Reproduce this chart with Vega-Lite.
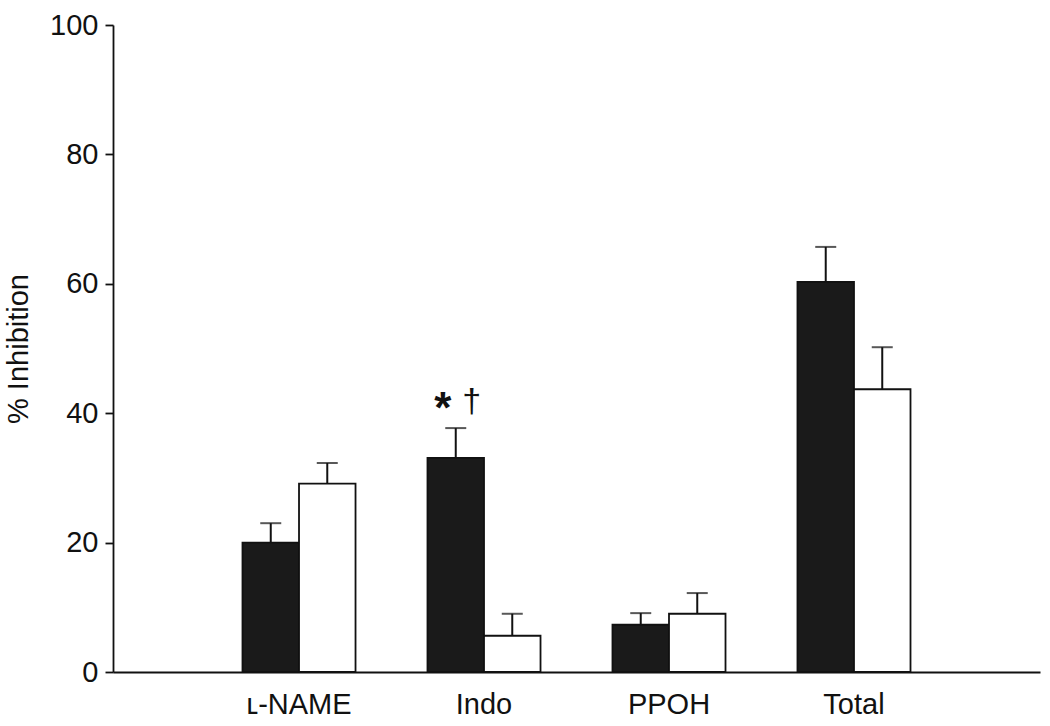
{
  "$schema": "https://vega.github.io/schema/vega-lite/v6.json",
  "autosize": "none",
  "width": 927,
  "height": 647,
  "padding": {"left": 113, "top": 25, "right": 10, "bottom": 54},
  "background": "white",
  "config": {
    "view": {"stroke": null},
    "font": "Liberation Sans",
    "axis": {"labelFont": "Liberation Sans", "titleFont": "Liberation Sans", "labelColor": "#111", "titleColor": "#111", "domainColor": "#111", "tickColor": "#111"}
  },
  "data": {
    "values": [
      {"group": "ʟ-NAME", "series": "A", "value": 20.0, "upper": 23.0},
      {"group": "ʟ-NAME", "series": "B", "value": 29.1, "upper": 32.3},
      {"group": "Indo", "series": "A", "value": 33.1, "upper": 37.7},
      {"group": "Indo", "series": "B", "value": 5.6, "upper": 9.0},
      {"group": "PPOH", "series": "A", "value": 7.3, "upper": 9.1},
      {"group": "PPOH", "series": "B", "value": 9.0, "upper": 12.2},
      {"group": "Total", "series": "A", "value": 60.3, "upper": 65.7},
      {"group": "Total", "series": "B", "value": 43.7, "upper": 50.2}
    ]
  },
  "encoding": {
    "x": {
      "field": "group", "type": "nominal", "sort": null,
      "scale": {"paddingInner": 0.389, "paddingOuter": 0.7},
      "axis": {"title": null, "labelAngle": 0, "labelFontSize": 29, "ticks": false, "labelPadding": 18, "domainWidth": 1.8}
    },
    "xOffset": {"field": "series", "type": "nominal", "scale": {"paddingInner": 0, "paddingOuter": 0}}
  },
  "layer": [
    {
      "mark": {"type": "rule", "color": "#111", "strokeWidth": 2},
      "encoding": {
        "y": {"field": "value", "type": "quantitative"},
        "y2": {"field": "upper"}
      }
    },
    {
      "mark": {"type": "tick", "orient": "horizontal", "color": "#111", "thickness": 2, "size": 21},
      "encoding": {
        "y": {"field": "upper", "type": "quantitative"}
      }
    },
    {
      "mark": {"type": "bar", "stroke": "#111", "strokeWidth": 1.8},
      "encoding": {
        "y": {
          "field": "value", "type": "quantitative",
          "scale": {"domain": [0, 100], "nice": false},
          "axis": {"title": "% Inhibition", "titleFontSize": 29, "titleFontWeight": "normal", "titlePadding": 16, "values": [0, 20, 40, 60, 80, 100], "labelFontSize": 29, "tickSize": 8, "tickWidth": 1.8, "domainWidth": 1.8, "grid": false, "labelPadding": 7}
        },
        "fill": {"field": "series", "type": "nominal", "scale": {"domain": ["A", "B"], "range": ["#1a1a1a", "#ffffff"]}, "legend": null}
      }
    },
    {
      "transform": [{"filter": "datum.group === 'Indo' && datum.series === 'A'"}],
      "mark": {"type": "text", "text": "*", "fontSize": 44, "fontWeight": "bold", "color": "#111", "dx": -13, "dy": 10, "baseline": "middle"},
      "encoding": {"y": {"datum": 42, "type": "quantitative"}}
    },
    {
      "transform": [{"filter": "datum.group === 'Indo' && datum.series === 'A'"}],
      "mark": {"type": "text", "text": "†", "fontSize": 34, "color": "#111", "dx": 16, "dy": 12, "baseline": "alphabetic"},
      "encoding": {"y": {"datum": 42, "type": "quantitative"}}
    }
  ]
}
